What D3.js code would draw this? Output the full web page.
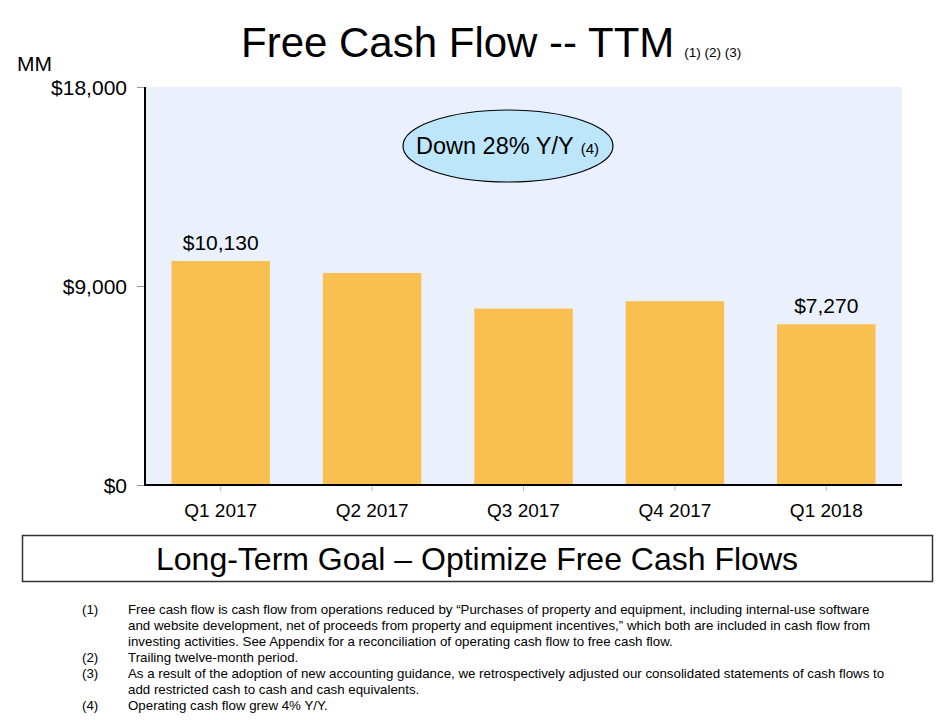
<!DOCTYPE html>
<html>
<head>
<meta charset="utf-8">
<script src="https://cdn.jsdelivr.net/npm/d3@7"></script>
<style>
  body { margin: 0; background: #fff; }
  svg text { font-family: "Liberation Sans", Arial, sans-serif; fill: #000; }
</style>
</head>
<body>
<script>
(function(){

    //chart data
    var quarters = ["Q1 2017", "Q2 2017", "Q3 2017", "Q4 2017", "Q1 2018"];
    var fcfValues = [10130, 9590, 7980, 8310, 7270];
    var valueLabels = ["$10,130", "", "", "", "$7,270"];
    var yTicks = [0, 9000, 18000];
    var footnotes = [
        ["(1)", ["Free cash flow is cash flow from operations reduced by \u201cPurchases of property and equipment, including internal-use software",
                 "and website development, net of proceeds from property and equipment incentives,\u201d which both are included in cash flow from",
                 "investing activities. See Appendix for a reconciliation of operating cash flow to free cash flow."]],
        ["(2)", ["Trailing twelve-month period."]],
        ["(3)", ["As a result of the adoption of new accounting guidance, we retrospectively adjusted our consolidated statements of cash flows to",
                 "add restricted cash to cash and cash equivalents."]],
        ["(4)", ["Operating cash flow grew 4% Y/Y."]]
    ];

    var width = 944, height = 720;
    var plot = {left: 145, right: 902, top: 87, bottom: 485};

    var svg = d3.select("body")
        .append("svg")
        .attr("width", width)
        .attr("height", height);

    //scales
    var x = d3.scaleBand()
        .domain(quarters)
        .range([plot.left, plot.right])
        .paddingInner(0.35)
        .paddingOuter(0.175);

    var y = d3.scaleLinear()
        .domain([0, 18000])
        .range([plot.bottom, plot.top]);

    //plot background
    svg.append("rect")
        .attr("x", plot.left)
        .attr("y", plot.top)
        .attr("width", plot.right - plot.left)
        .attr("height", plot.bottom - plot.top)
        .style("fill", "#eaf1fc");

    //title
    var title = svg.append("text")
        .attr("x", 241)
        .attr("y", 57);
    title.append("tspan")
        .style("font-size", "42px")
        .text("Free Cash Flow -- TTM");
    title.append("tspan")
        .attr("dx", 10)
        .style("font-size", "13.5px")
        .text("(1) (2) (3)");

    svg.append("text")
        .attr("x", 17)
        .attr("y", 71)
        .style("font-size", "21px")
        .text("MM");

    //bars
    svg.selectAll(".bar")
        .data(fcfValues)
        .enter()
        .append("rect")
        .attr("class", "bar")
        .attr("x", function(d, i){ return x(quarters[i]); })
        .attr("y", function(d){ return y(d); })
        .attr("width", x.bandwidth())
        .attr("height", function(d){ return y(0) - y(d); })
        .style("fill", "#f9bf4f");

    //value labels
    svg.selectAll(".valLabel")
        .data(fcfValues)
        .enter()
        .append("text")
        .attr("class", "valLabel")
        .attr("x", function(d, i){ return x(quarters[i]) + x.bandwidth() / 2; })
        .attr("y", function(d){ return y(d) - 11; })
        .attr("text-anchor", "middle")
        .style("font-size", "21px")
        .text(function(d, i){ return valueLabels[i]; });

    //y axis
    var yAxis = svg.append("g")
        .attr("transform", "translate(" + plot.left + ",0)")
        .call(d3.axisLeft(y).tickValues(yTicks).tickSize(8).tickPadding(10)
            .tickFormat(function(d){ return "$" + d3.format(",")(d); }));
    yAxis.select(".domain").remove();
    yAxis.selectAll("line").style("stroke", "#999");
    yAxis.selectAll("text")
        .style("font-size", "21px")
        .attr("dy", "0.35em")
        .style("font-family", "Liberation Sans, Arial, sans-serif");

    //x axis
    var xAxis = svg.append("g")
        .attr("transform", "translate(0," + plot.bottom + ")")
        .call(d3.axisBottom(x).tickSize(6).tickPadding(13));
    xAxis.select(".domain").remove();
    xAxis.selectAll("line").style("stroke", "#bbb");
    xAxis.selectAll("text")
        .style("font-size", "19px")
        .style("font-family", "Liberation Sans, Arial, sans-serif");

    //axis lines
    svg.append("line")
        .attr("x1", plot.left).attr("x2", plot.left)
        .attr("y1", plot.top).attr("y2", plot.bottom)
        .style("stroke", "#000").style("stroke-width", 2);
    svg.append("line")
        .attr("x1", plot.left - 1).attr("x2", plot.right)
        .attr("y1", plot.bottom).attr("y2", plot.bottom)
        .style("stroke", "#000").style("stroke-width", 2);

    //callout ellipse
    svg.append("ellipse")
        .attr("cx", 508)
        .attr("cy", 146)
        .attr("rx", 105)
        .attr("ry", 36)
        .style("fill", "#bde6fa")
        .style("stroke", "#000")
        .style("stroke-width", 1.2);
    var callout = svg.append("text")
        .attr("x", 416)
        .attr("y", 154);
    callout.append("tspan")
        .style("font-size", "23.5px")
        .text("Down 28% Y/Y");
    callout.append("tspan")
        .attr("dx", 7)
        .style("font-size", "15px")
        .text("(4)");

    //goal box
    svg.append("rect")
        .attr("x", 22.5)
        .attr("y", 535.5)
        .attr("width", 910)
        .attr("height", 46)
        .style("fill", "#fff")
        .style("stroke", "#333")
        .style("stroke-width", 1.5);
    svg.append("text")
        .attr("x", 477)
        .attr("y", 570)
        .attr("text-anchor", "middle")
        .style("font-size", "32px")
        .text("Long-Term Goal \u2013 Optimize Free Cash Flows");

    //footnotes
    var baselines = [[614, 630, 646], [662], [678, 694], [710]];
    footnotes.forEach(function(note, i){
        svg.append("text")
            .attr("x", 82)
            .attr("y", baselines[i][0])
            .style("font-size", "13.3px")
            .text(note[0]);
        note[1].forEach(function(line, j){
            svg.append("text")
                .attr("x", 128)
                .attr("y", baselines[i][j])
                .style("font-size", "13.3px")
                .text(line);
        });
    });

})();
</script>
</body>
</html>
